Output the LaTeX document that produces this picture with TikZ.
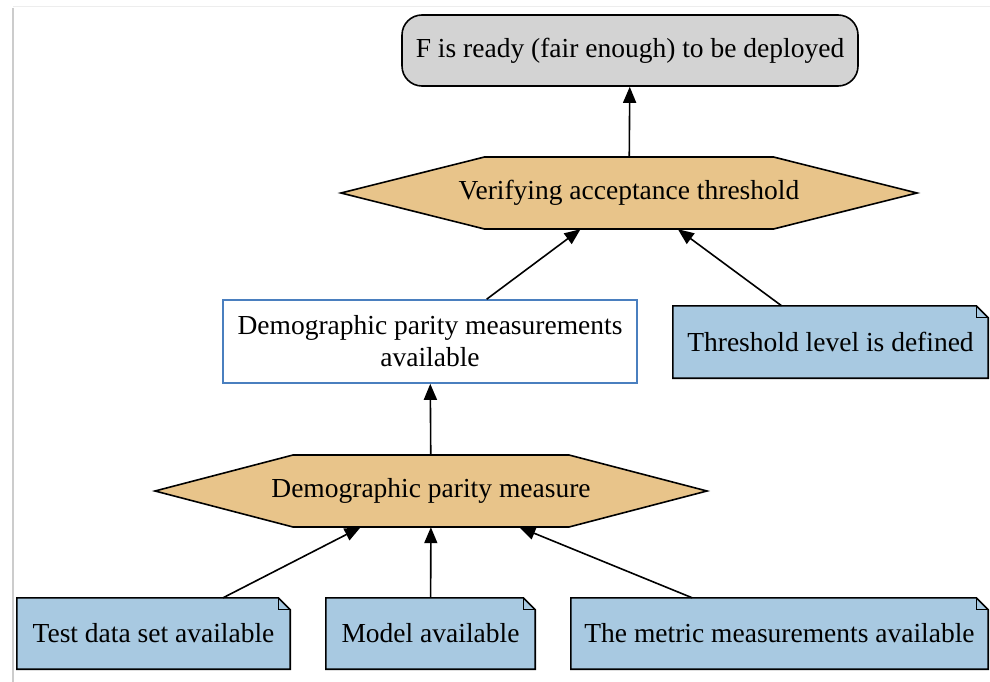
\documentclass[tikz,border=0pt]{standalone}
\usepackage{fontspec}
\setmainfont{Liberation Serif}
\usetikzlibrary{arrows.meta,backgrounds,calc}

\definecolor{hexfill}{HTML}{E8C48A}
\definecolor{notefill}{HTML}{A8C9E1}
\definecolor{topfill}{HTML}{D3D3D3}
\definecolor{boxblue}{HTML}{4A7FBF}

\tikzset{
  base/.style={font=\fontsize{27.5}{32}\selectfont, inner sep=0pt, align=center},
  goalbox/.style={base, draw, fill=topfill, rounded corners=20pt, line width=1.6pt},
  solbox/.style={base, draw=boxblue, fill=white, line width=1.6pt},
  hexnode/.style={base, minimum height=72pt},
  notenode/.style={base, fill=notefill, minimum height=71pt},
  link/.style={line width=1.6pt, -{Triangle[length=16pt,width=13pt]}},
}

% outline of a note with a folded top-right corner
\newcommand\notecorner[1]{%
  \fill[white] ([xshift=-12pt]#1.north east) -- (#1.north east) -- ([yshift=-12pt]#1.north east) -- cycle;
  \draw[line width=1.6pt, line join=miter] (#1.south west) -- (#1.north west) -- ([xshift=-12pt]#1.north east) -- ([yshift=-12pt]#1.north east) -- (#1.south east) -- cycle;
  \draw[line width=1.1pt] ([xshift=-12pt]#1.north east) -- ([xshift=-12pt,yshift=-12pt]#1.north east) -- ([yshift=-12pt]#1.north east);
}

% hexagon behind a strategy node: name, half flat width, half full width
\newcommand\hexoutline[3]{%
  \begin{pgfonlayer}{background}
    \filldraw[fill=hexfill, line width=1.6pt, line join=miter]
      ($(#1)+(-#2,-36)$) -- ($(#1)+(#2,-36)$) -- ($(#1)+(#3,0)$) --
      ($(#1)+(#2,36)$) -- ($(#1)+(-#2,36)$) -- ($(#1)+(-#3,0)$) -- cycle;
  \end{pgfonlayer}
}

\begin{document}
\begin{tikzpicture}[x=1pt, y=-1pt]
  \useasboundingbox (0,0) rectangle (990,682);
  \begin{pgfonlayer}{background}
    \fill[white] (0,0) rectangle (990,682);
    % page edge shadow
    \draw[black!20, line width=2.5pt] (13,8) -- (13,682);
    \draw[black!7, line width=1pt] (13,7) -- (990,7);
  \end{pgfonlayer}

  \node[goalbox, minimum width=456pt, minimum height=71pt] (goal) at (630,50.5)
    {F is ready (fair enough) to be deployed};

  \node[hexnode] (verify) at (629,193) {Verifying acceptance threshold};
  \hexoutline{verify}{144.5}{288}

  \node[solbox, minimum width=414pt, minimum height=83pt] (dpavail) at (430,341.5)
    {Demographic parity measurements\\available};

  \node[notenode, minimum width=315pt, minimum height=72pt] (thresh) at (830.5,342)
    {Threshold level is defined};
  \notecorner{thresh}

  \node[hexnode] (dpm) at (431,491) {Demographic parity measure};
  \hexoutline{dpm}{138}{276}

  \node[notenode, minimum width=273pt] (testdata) at (153.5,633.5) {Test data set available};
  \notecorner{testdata}
  \node[notenode, minimum width=209pt] (model) at (430.5,633.5) {Model available};
  \notecorner{model}
  \node[notenode, minimum width=417pt] (metric) at (779.5,633.5) {The metric measurements available};
  \notecorner{metric}

  \draw[link] (verify) -- (goal);
  \draw[link] (dpavail) -- (verify);
  \draw[link] (thresh) -- (verify);
  \draw[link] (dpm) -- (dpavail);
  \draw[link] (testdata) -- (dpm);
  \draw[link] (model) -- (dpm);
  \draw[link] (metric) -- (dpm);
\end{tikzpicture}
\end{document}
